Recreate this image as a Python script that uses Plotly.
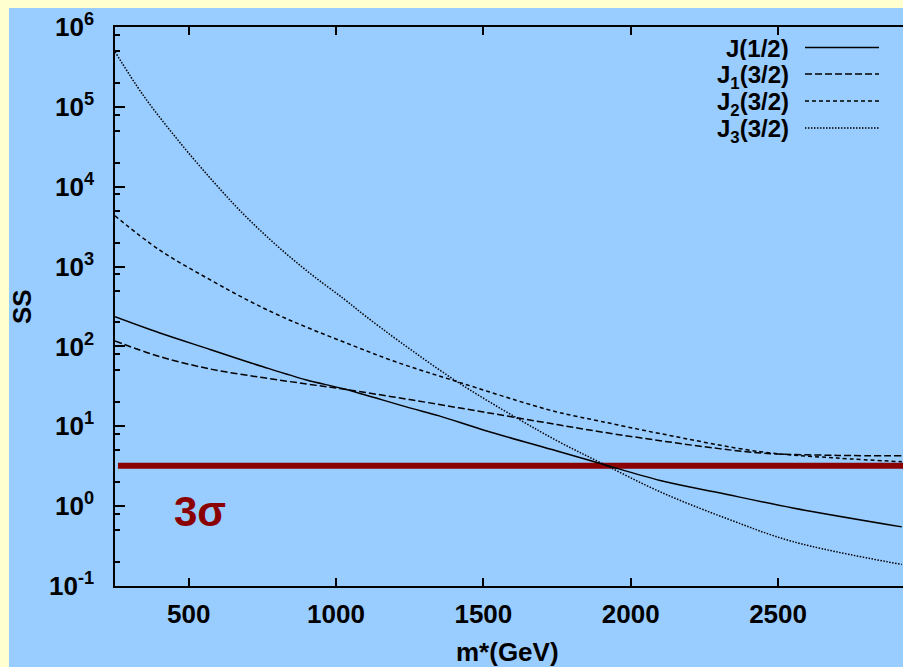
import plotly.graph_objects as go

# ---- data ----
m_j12 = [250, 400, 575, 750, 900, 1025, 1250, 1350, 1500, 1750, 1900, 2100, 2300, 2550, 2920]
ss_j12 = [235, 148, 91, 56, 38, 29.5, 17, 13.5, 9.0, 4.9, 3.4, 2.1, 1.47, 0.95, 0.55]

m_j1 = [250, 400, 575, 750, 900, 1025, 1250, 1500, 1750, 1900, 2100, 2300, 2450, 2700, 2920]
ss_j1 = [117, 75, 52, 40.7, 33.9, 29.2, 21.6, 15.1, 10.5, 8.5, 6.6, 5.25, 4.6, 4.32, 4.27]

m_j2 = [250, 400, 575, 700, 800, 900, 1050, 1200, 1410, 1670, 1760, 1900, 2100, 2440, 2700, 2920]
ss_j2 = [4315, 1622, 676, 380, 251, 174, 105, 64.6, 36.3, 18.2, 14.8, 11.5, 8.1, 4.8, 4.0, 3.6]

m_j3 = [250, 345, 460, 575, 685, 800, 910, 1025, 1100, 1220, 1410, 1615, 1760, 1900, 2100, 2330, 2550, 2920]
ss_j3 = [490000, 141000, 39800, 12600, 4570, 1820, 832, 398, 240, 112, 36.3, 12.6, 6.3, 3.47, 1.51, 0.69, 0.36, 0.186]

sigma_m = [260, 3000]
sigma_ss = [3.2, 3.2]

series_names = ["J(1/2)", "J<sub>1</sub>(3/2)", "J<sub>2</sub>(3/2)", "J<sub>3</sub>(3/2)"]
series_dash = ["solid", "7px,3px", "4px,3px", "1.5px,1.5px"]

x_ticks = [500, 1000, 1500, 2000, 2500]
y_ticks = [0.1, 1, 10, 100, 1000, 1e4, 1e5, 1e6]
y_ticklabels = ["10<sup>-1</sup>", "10<sup>0</sup>", "10<sup>1</sup>", "10<sup>2</sup>",
                "10<sup>3</sup>", "10<sup>4</sup>", "10<sup>5</sup>", "10<sup>6</sup>"]
y_minor = [m * 10 ** e for e in range(-1, 6) for m in (2, 5, 8)]

BLUE = "#99CCFF"
YELLOW = "#FFFFD0"
RED = "#8B0000"
FONT = "Liberation Sans, Arial, Helvetica, sans-serif"

fig = go.Figure()

fig.add_trace(go.Scatter(x=sigma_m, y=sigma_ss, mode="lines",
                         line=dict(color=RED, width=6), showlegend=False, hoverinfo="skip"))

for mx, yy, dash in zip([m_j12, m_j1, m_j2, m_j3], [ss_j12, ss_j1, ss_j2, ss_j3], series_dash):
    fig.add_trace(go.Scatter(x=mx, y=yy, mode="lines",
                             line=dict(color="black", width=1.5, dash=dash, shape="spline", smoothing=1.0),
                             showlegend=False))

L, T, B = 115, 27, 81
W, H = 903, 667
PW, PH = W - L, H - T - B


def px(xp):
    return (xp - L) / PW


def py(yp):
    return (H - B - yp) / PH


shapes = [dict(type="rect", xref="paper", yref="paper", x0=px(9), x1=1.2, y0=py(700), y1=py(8),
               fillcolor=BLUE, line=dict(width=0), layer="below")]
annotations = []
rows_y = [47.5, 74, 101, 128]
text_off = [1, 3, 3, 3]
for name, dash, ry, off in zip(series_names, series_dash, rows_y, text_off):
    shapes.append(dict(type="line", xref="paper", yref="paper", x0=px(805), x1=px(879),
                       y0=py(ry), y1=py(ry), line=dict(color="black", width=1.5, dash=dash)))
    annotations.append(dict(xref="paper", yref="paper", x=px(790), y=py(ry + off), text=name,
                            showarrow=False, xanchor="right", yanchor="middle",
                            height=24, valign="middle", borderpad=0,
                            font=dict(family=FONT, size=24, color="black", weight="bold")))

annotations.append(dict(x=540, y=-0.07, xref="x", yref="y", text="3σ", showarrow=False,
                        xanchor="center", yanchor="middle",
                        font=dict(family=FONT, size=42, color=RED, weight="bold")))
annotations.append(dict(xref="paper", yref="paper", x=px(22), y=py(307), text="SS", textangle=-90,
                        xanchor="center", yanchor="middle",
                        showarrow=False, font=dict(family=FONT, size=26, color="black", weight="bold")))
annotations.append(dict(xref="paper", yref="paper", x=px(507), y=py(652), text="m*(GeV)",
                        xanchor="center", yanchor="middle",
                        showarrow=False, font=dict(family=FONT, size=26, color="black", weight="bold")))

fig.update_layout(
    width=W, height=H,
    margin=dict(l=L, r=0, t=T, b=B),
    paper_bgcolor=YELLOW, plot_bgcolor=BLUE,
    showlegend=False,
    shapes=shapes, annotations=annotations,
    font=dict(family=FONT, color="black"),
)

fig.update_xaxes(range=[250, 2924], tickvals=x_ticks, ticks="inside", ticklen=8, tickwidth=1.5,
                 tickcolor="black", showline=True, linecolor="black", linewidth=1.5, mirror="ticks",
                 showgrid=False, zeroline=False, ticklabelstandoff=4,
                 tickfont=dict(family=FONT, size=26, color="black", weight="bold"))
fig.update_yaxes(type="log", range=[-1, 6], tickvals=y_ticks, ticktext=y_ticklabels,
                 ticks="inside", ticklen=10, tickwidth=1.5, tickcolor="black",
                 showline=True, linecolor="black", linewidth=1.5, mirror=False,
                 showgrid=False, zeroline=False, ticklabelstandoff=14,
                 minor=dict(tickvals=y_minor, ticks="inside", ticklen=5, tickwidth=1.5, tickcolor="black",
                            showgrid=False),
                 tickfont=dict(family=FONT, size=26, color="black", weight="bold"))

fig.write_html("out.html")
